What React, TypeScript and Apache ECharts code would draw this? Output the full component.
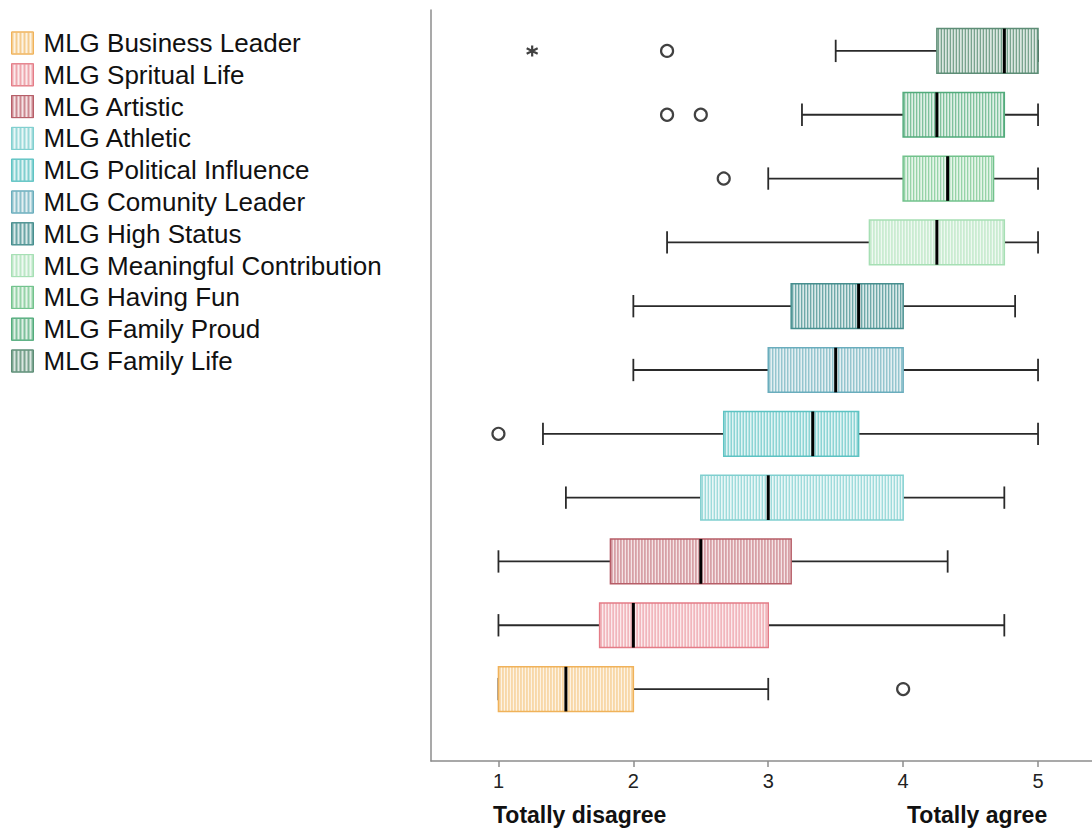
import { useEffect, useRef } from "react";
import * as echarts from "echarts";

// Item names, listed bottom-to-top on the chart and top-to-bottom in the legend
const categories = [
  "MLG Business Leader",
  "MLG Spritual Life",
  "MLG Artistic",
  "MLG Athletic",
  "MLG Political Influence",
  "MLG Comunity Leader",
  "MLG High Status",
  "MLG Meaningful Contribution",
  "MLG Having Fun",
  "MLG Family Proud",
  "MLG Family Life",
];

// Five-number summaries: [lower whisker, Q1, median, Q3, upper whisker]
const boxStats = [
  [1, 1, 1.5, 2, 3],
  [1, 1.75, 2, 3, 4.75],
  [1, 1.83, 2.5, 3.17, 4.33],
  [1.5, 2.5, 3, 4, 4.75],
  [1.33, 2.67, 3.33, 3.67, 5],
  [2, 3, 3.5, 4, 5],
  [2, 3.17, 3.67, 4, 4.83],
  [2.25, 3.75, 4.25, 4.75, 5],
  [3, 4, 4.33, 4.67, 5],
  [3.25, 4, 4.25, 4.75, 5],
  [3.5, 4.25, 4.75, 5, 5],
];

// Outliers as [score, category index]
const outliers = [
  [4, 0],
  [1, 4],
  [2.67, 8],
  [2.25, 9],
  [2.5, 9],
  [2.25, 10],
];
// Extreme values as [score, category index]
const extremes = [[1.25, 10]];

const tickValues = [1, 2, 3, 4, 5];

// Per-item colours: outline, stripe, background
const borderColors = [
  "#f0b25a", "#e47c87", "#b65d67", "#80cfcf", "#5ec3c3", "#6aadbd",
  "#468e8e", "#a6dfb4", "#72c28c", "#52ab7b", "#5d8d76",
];
const stripeColors = [
  "#f5cc8e", "#eea7ae", "#cc8890", "#9ad9d9", "#80cfcf", "#8cc1cb",
  "#6ba6a6", "#bce7c6", "#96d3a8", "#7ec19c", "#79a38e",
];
const fillColors = [
  "#fdf3e3", "#fbeaec", "#f5e3e5", "#e9f7f7", "#e0f4f4", "#e3eff2",
  "#d9e9e9", "#eef9f1", "#e5f5e9", "#dff0e6", "#dbe7e1",
];

const FONT = "'Liberation Sans', Arial, sans-serif";
const X_MIN = 0.5;
const X_MAX = 5.4;

export default function App() {
  const ref = useRef<HTMLDivElement>(null);

  useEffect(() => {
    if (!ref.current) return;
    const chart = echarts.init(ref.current, null, { renderer: "svg" });

    const boxSeries = categories.map((name, i) => ({
      type: "custom",
      name,
      xAxisIndex: 1,
      yAxisIndex: 1,
      dimensions: ["cat", "lo", "q1", "med", "q3", "hi"],
      encode: { x: [1, 2, 3, 4, 5], y: 0 },
      itemStyle: { color: borderColors[i] },
      data: [[i, ...boxStats[i]]],
      z: 2,
      renderItem: (_params: any, api: any) => {
        const ci = api.value(0);
        const lo = api.value(1);
        const q1 = api.value(2);
        const med = api.value(3);
        const q3 = api.value(4);
        const hi = api.value(5);
        const band = api.size([0, 1])[1];
        const half = band * 0.35;
        const cap = band * 0.175;
        const pLo = api.coord([lo, ci]);
        const cy = pLo[1];
        const xLo = pLo[0];
        const x1 = api.coord([q1, ci])[0];
        const xm = api.coord([med, ci])[0];
        const x3 = api.coord([q3, ci])[0];
        const xHi = api.coord([hi, ci])[0];
        const top = cy - half;
        const bottom = cy + half;
        const whisker = { stroke: "#2a2a2a", lineWidth: 1.8 };

        const children: any[] = [
          { type: "line", shape: { x1: xLo, y1: cy, x2: x1, y2: cy }, style: whisker },
          { type: "line", shape: { x1: x3, y1: cy, x2: xHi, y2: cy }, style: whisker },
          { type: "line", shape: { x1: xLo, y1: cy - cap, x2: xLo, y2: cy + cap }, style: whisker },
          { type: "line", shape: { x1: xHi, y1: cy - cap, x2: xHi, y2: cy + cap }, style: whisker },
          {
            type: "rect",
            shape: { x: x1, y: top, width: x3 - x1, height: bottom - top },
            style: { fill: fillColors[i], stroke: "none" },
          },
        ];
        for (let sx = x1 + 1.5; sx < x3 - 0.5; sx += 3) {
          children.push({
            type: "line",
            shape: { x1: sx, y1: top, x2: sx, y2: bottom },
            style: { stroke: stripeColors[i], lineWidth: 1.3 },
          });
        }
        children.push(
          {
            type: "rect",
            shape: { x: x1, y: top, width: x3 - x1, height: bottom - top },
            style: { fill: "none", stroke: borderColors[i], lineWidth: 1.5 },
          },
          {
            type: "line",
            shape: { x1: xm, y1: top, x2: xm, y2: bottom },
            style: { stroke: "#000", lineWidth: 3 },
          }
        );
        return { type: "group", children };
      },
    }));

    const option: any = {
      animation: false,
      backgroundColor: "#ffffff",
      legend: {
        orient: "vertical",
        left: 6,
        top: 25,
        itemWidth: 22,
        itemHeight: 22,
        itemGap: 5.8,
        selectedMode: false,
        icon: "rect",
        textStyle: {
          fontSize: 26,
          lineHeight: 22,
          fontFamily: FONT,
          color: "#111",
          padding: [0, 0, 0, 5],
        },
        data: categories.map((name, i) => ({
          name,
          icon: "rect",
          itemStyle: {
            color: fillColors[i],
            borderColor: borderColors[i],
            borderWidth: 1,
            decal: {
              symbol: "rect",
              symbolSize: 1,
              dashArrayX: [1.5, 1.5],
              dashArrayY: [4, 0],
              rotation: 0,
              color: stripeColors[i],
            },
          },
        })),
      },
      grid: [
        { left: 431, right: 0, top: 10, bottom: 68 },
        { left: 431, right: 0, top: 19, height: 702 },
      ],
      xAxis: [
        {
          type: "value",
          gridIndex: 0,
          min: X_MIN,
          max: X_MAX,
          axisLine: { show: true, onZero: false, lineStyle: { color: "#8c8c8c", width: 1.5 } },
          axisTick: {
            show: true,
            customValues: tickValues,
            length: 6,
            lineStyle: { color: "#8c8c8c", width: 1.5 },
          },
          axisLabel: {
            customValues: tickValues,
            fontSize: 20,
            fontFamily: FONT,
            color: "#222",
            margin: 10,
          },
          splitLine: { show: false },
        },
        { type: "value", gridIndex: 1, min: X_MIN, max: X_MAX, show: false },
      ],
      yAxis: [
        {
          type: "value",
          gridIndex: 0,
          min: 0,
          max: 1,
          axisLine: { show: true, onZero: false, lineStyle: { color: "#8c8c8c", width: 1.5 } },
          axisTick: { show: false },
          axisLabel: { show: false },
          splitLine: { show: false },
        },
        { type: "category", gridIndex: 1, data: categories, show: false },
      ],
      graphic: [
        {
          type: "text",
          left: 493,
          top: 803,
          style: { text: "Totally disagree", fontSize: 23, fontWeight: "bold", fontFamily: FONT, fill: "#111" },
        },
        {
          type: "text",
          left: 907,
          top: 803,
          style: { text: "Totally agree", fontSize: 23, fontWeight: "bold", fontFamily: FONT, fill: "#111" },
        },
      ],
      series: [
        ...boxSeries,
        {
          type: "scatter",
          name: "outliers",
          xAxisIndex: 1,
          yAxisIndex: 1,
          symbol: "circle",
          symbolSize: 12,
          itemStyle: { color: "#fff", borderColor: "#111", borderWidth: 2.2 },
          data: outliers,
          z: 3,
        },
        {
          type: "scatter",
          name: "extremes",
          xAxisIndex: 1,
          yAxisIndex: 1,
          symbol: "path://M5,0L5,10M0.67,2.5L9.33,7.5M0.67,7.5L9.33,2.5",
          symbolSize: 11,
          itemStyle: { color: "none", borderColor: "#111", borderWidth: 2.2 },
          data: extremes,
          z: 3,
        },
      ],
    };

    chart.setOption(option);
    return () => chart.dispose();
  }, []);

  return (
    <div
      ref={ref}
      style={{ position: "fixed", left: 0, top: 0, width: 1092, height: 829, background: "#fff" }}
    />
  );
}
